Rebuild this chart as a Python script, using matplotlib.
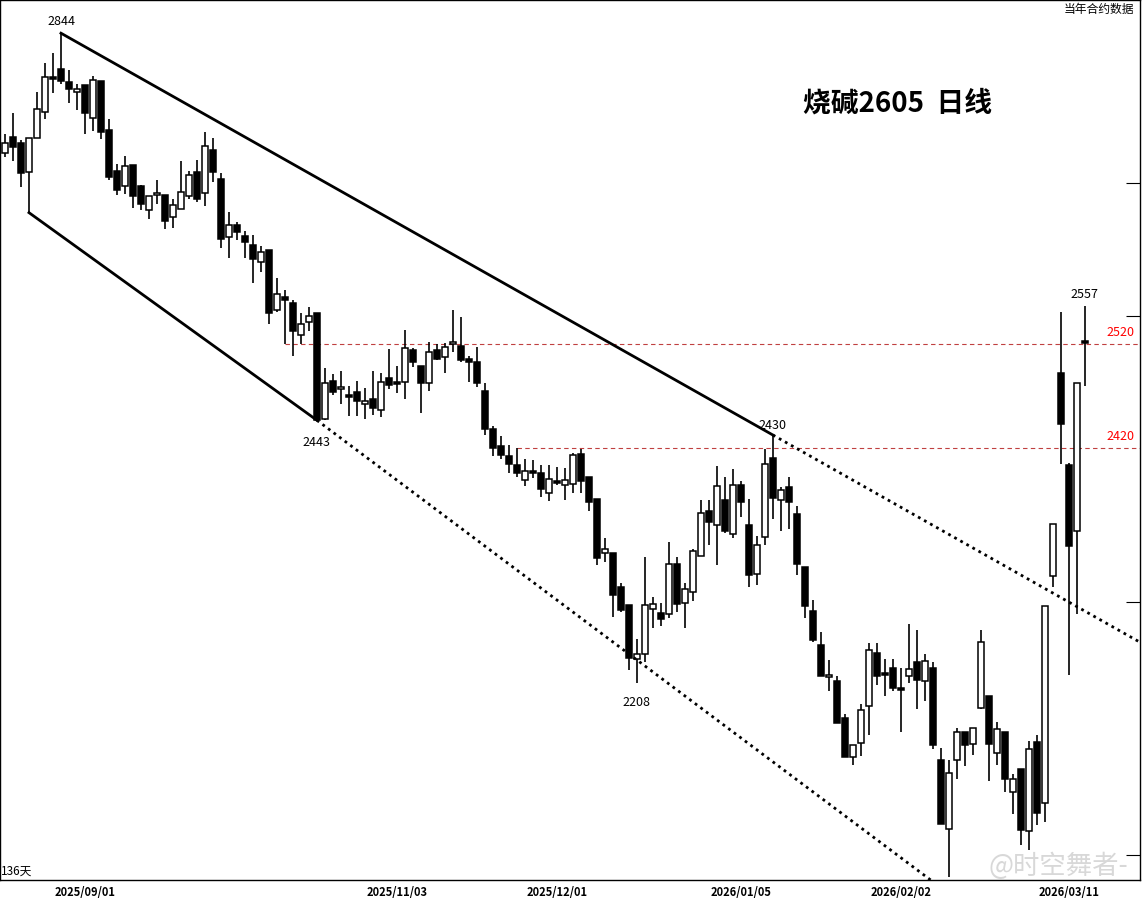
import numpy as np
import matplotlib.pyplot as plt
from matplotlib.ticker import NullLocator, FixedLocator

plt.rcParams['font.family'] = ['Noto Sans CJK SC', 'DejaVu Sans']

# daily OHLC, 136 sessions
opens = [2714, 2731, 2725, 2694, 2730, 2758, 2795, 2805, 2790, 2780, 2787, 2752, 2792, 2739, 2695, 2680, 2702, 2680,
         2655, 2670, 2670, 2647, 2656, 2669, 2694, 2672, 2718, 2687, 2627, 2639, 2628, 2619, 2602, 2614, 2553, 2566,
         2560, 2529, 2541, 2550, 2447, 2484, 2476, 2470, 2473, 2462, 2466, 2456, 2487, 2482, 2483, 2514, 2498, 2482,
         2514, 2507, 2520, 2518, 2505, 2502, 2474, 2438, 2422, 2412, 2404, 2390, 2398, 2396, 2378, 2388, 2385, 2386,
         2414, 2393, 2372, 2323, 2323, 2292, 2276, 2229, 2233, 2273, 2269, 2268, 2313, 2278, 2288, 2320, 2361, 2348,
         2371, 2340, 2385, 2348, 2304, 2337, 2410, 2371, 2383, 2358, 2310, 2271, 2241, 2213, 2210, 2178, 2145, 2157,
         2188, 2234, 2216, 2221, 2203, 2214, 2226, 2210, 2221, 2143, 2086, 2143, 2166, 2156, 2187, 2197, 2149, 2166,
         2116, 2135, 2084, 2158, 2107, 2302, 2491, 2404, 2343, 2523]
highs = [2735, 2757, 2728, 2730, 2780, 2811, 2822, 2844, 2803, 2788, 2787, 2797, 2792, 2750, 2703, 2711, 2702, 2681,
         2669, 2686, 2670, 2666, 2706, 2695, 2707, 2737, 2730, 2693, 2653, 2642, 2633, 2629, 2618, 2614, 2585, 2573,
         2563, 2550, 2556, 2550, 2496, 2490, 2493, 2479, 2484, 2477, 2493, 2491, 2515, 2498, 2534, 2516, 2498, 2522,
         2520, 2521, 2553, 2546, 2508, 2517, 2482, 2441, 2431, 2423, 2420, 2409, 2408, 2404, 2404, 2402, 2401, 2415,
         2419, 2393, 2372, 2336, 2323, 2296, 2276, 2246, 2319, 2283, 2278, 2333, 2319, 2296, 2326, 2371, 2371, 2403,
         2393, 2400, 2389, 2372, 2338, 2419, 2431, 2383, 2393, 2366, 2310, 2281, 2252, 2228, 2214, 2182, 2155, 2190,
         2243, 2243, 2229, 2229, 2221, 2259, 2254, 2233, 2226, 2153, 2143, 2170, 2166, 2170, 2254, 2197, 2175, 2166,
         2131, 2135, 2159, 2164, 2275, 2349, 2551, 2406, 2482, 2557]
lows = [2710, 2706, 2679, 2652, 2730, 2750, 2779, 2788, 2768, 2760, 2735, 2738, 2729, 2686, 2670, 2671, 2657, 2655,
        2645, 2661, 2635, 2636, 2656, 2666, 2663, 2659, 2684, 2616, 2606, 2624, 2606, 2580, 2591, 2539, 2551, 2520,
        2508, 2520, 2533, 2445, 2446, 2470, 2462, 2450, 2450, 2447, 2451, 2449, 2476, 2472, 2466, 2497, 2453, 2474,
        2504, 2491, 2512, 2502, 2483, 2478, 2432, 2412, 2409, 2396, 2393, 2384, 2392, 2374, 2370, 2385, 2371, 2378,
        2378, 2361, 2312, 2315, 2266, 2270, 2219, 2208, 2226, 2256, 2258, 2265, 2270, 2256, 2280, 2320, 2330, 2312,
        2341, 2336, 2356, 2292, 2294, 2330, 2354, 2343, 2345, 2303, 2265, 2244, 2214, 2201, 2174, 2145, 2139, 2146,
        2164, 2206, 2197, 2201, 2166, 2208, 2186, 2193, 2152, 2090, 2047, 2127, 2138, 2147, 2186, 2125, 2139, 2116,
        2098, 2073, 2069, 2089, 2092, 2292, 2405, 2215, 2268, 2479]
closes = [2725, 2721, 2693, 2730, 2761, 2796, 2794, 2792, 2783, 2783, 2757, 2793, 2737, 2689, 2675, 2701, 2669, 2661,
          2669, 2672, 2643, 2660, 2673, 2691, 2666, 2722, 2694, 2625, 2639, 2632, 2622, 2605, 2612, 2550, 2569, 2563,
          2533, 2539, 2547, 2446, 2482, 2473, 2477, 2468, 2464, 2464, 2458, 2483, 2480, 2481, 2516, 2502, 2482, 2512,
          2505, 2517, 2521, 2504, 2502, 2482, 2438, 2420, 2413, 2405, 2396, 2398, 2396, 2381, 2391, 2387, 2390, 2413,
          2389, 2369, 2318, 2326, 2285, 2272, 2230, 2233, 2276, 2277, 2264, 2313, 2277, 2290, 2325, 2359, 2351, 2384,
          2343, 2385, 2369, 2303, 2330, 2405, 2373, 2380, 2369, 2313, 2275, 2245, 2214, 2215, 2174, 2145, 2155, 2185,
          2237, 2214, 2215, 2204, 2202, 2220, 2211, 2227, 2155, 2090, 2132, 2166, 2155, 2170, 2244, 2156, 2169, 2127,
          2127, 2085, 2152, 2099, 2275, 2349, 2442, 2329, 2482, 2521]

date_idx = [10, 49, 69, 92, 112, 133]
date_labels = ['2025/09/01', '2025/11/03', '2025/12/01', '2026/01/05', '2026/02/02', '2026/03/11']

# annotated extremes: (index, price, label)
marks = [(7, 2844, '2844'), (39, 2443, '2443'), (79, 2208, '2208'), (96, 2430, '2430'), (135, 2557, '2557')]
levels = [2520, 2420]
level_start = [35, 64]
right_ticks = [2683, 2547, 2279, 2065]

fig = plt.figure(figsize=(11.43, 9.01), dpi=100)
ax = fig.add_axes([0.0, 21 / 901, 1140 / 1143, 880 / 901])
ax.set_yscale('log')
x = np.arange(len(opens))
o, h, l, c = map(np.array, (opens, highs, lows, closes))

ax.vlines(x, l, h, color='black', lw=1.2, zorder=2)
up = c >= o
body_lo = np.minimum(o, c)
body_h = np.maximum(np.abs(c - o), 1.5)
ax.bar(x[up], body_h[up], bottom=body_lo[up], width=0.72, facecolor='white', edgecolor='black', lw=1.1, zorder=3)
ax.bar(x[~up], body_h[~up], bottom=body_lo[~up], width=0.72, facecolor='black', edgecolor='black', lw=1.1, zorder=3)

xmax = 141.9


def line(i0, p0, i1, p1, xs):
    # straight line in log-price space
    k = (np.log(p1) - np.log(p0)) / (i1 - i0)
    return np.exp(np.log(p0) + k * (np.asarray(xs) - i0))


ax.plot([7, 96], line(7, 2844, 96, 2432, [7, 96]), color='black', lw=2, zorder=4)
ax.plot([96, xmax], line(7, 2844, 96, 2432, [96, xmax]), color='black', lw=2, ls=(0, (1, 1.5)), zorder=4)
ax.plot([3, 39], [2652, 2446], color='black', lw=2, zorder=4)
ax.plot([39, 118.5], line(39, 2446, 79, 2228, [39, 118.5]), color='black', lw=2, ls=(0, (1, 1.5)), zorder=4)

for lv, st in zip(levels, level_start):
    ax.plot([st, xmax], [lv, lv], color='#c04040', lw=0.8, ls=(0, (4, 3)), zorder=1)
    ax.text(139.5, lv * 1.002, str(lv), color='red', fontsize=9, ha='center', va='bottom')

for i, p, s in marks:
    if s in ('2443', '2208'):
        ax.text(i, p * 0.995, s, fontsize=9, ha='center', va='top')
    else:
        ax.text(i, p * 1.002, s, fontsize=9, ha='center', va='bottom')

ax.text(0.787, 0.882, '烧碱2605  日线', transform=ax.transAxes, fontsize=20, fontweight='bold', ha='center', va='center')
ax.text(0.995, 0.997, '当年合约数据', transform=ax.transAxes, fontsize=8.5, ha='right', va='top')
ax.text(0.001, 0.003, '136天', transform=ax.transAxes, fontsize=8.5, ha='left', va='bottom')
ax.text(0.99, 0.0, '@时空舞者-', transform=ax.transAxes, fontsize=19, ha='right', va='bottom', color='#d8d8d8', zorder=0)

ax.set_xlim(-0.625, xmax)
ax.set_ylim(2045, 2881)
ax.yaxis.set_major_locator(FixedLocator(right_ticks))
ax.yaxis.set_minor_locator(NullLocator())
ax.tick_params(axis='y', left=False, labelleft=False, right=True, direction='in', length=10)
ax.set_xticks(date_idx)
ax.set_xticklabels(date_labels, fontsize=8, fontweight='bold')
ax.tick_params(axis='x', length=0, pad=4)
for sp in ax.spines.values():
    sp.set_linewidth(1)

fig.savefig('out.png', dpi=100)
